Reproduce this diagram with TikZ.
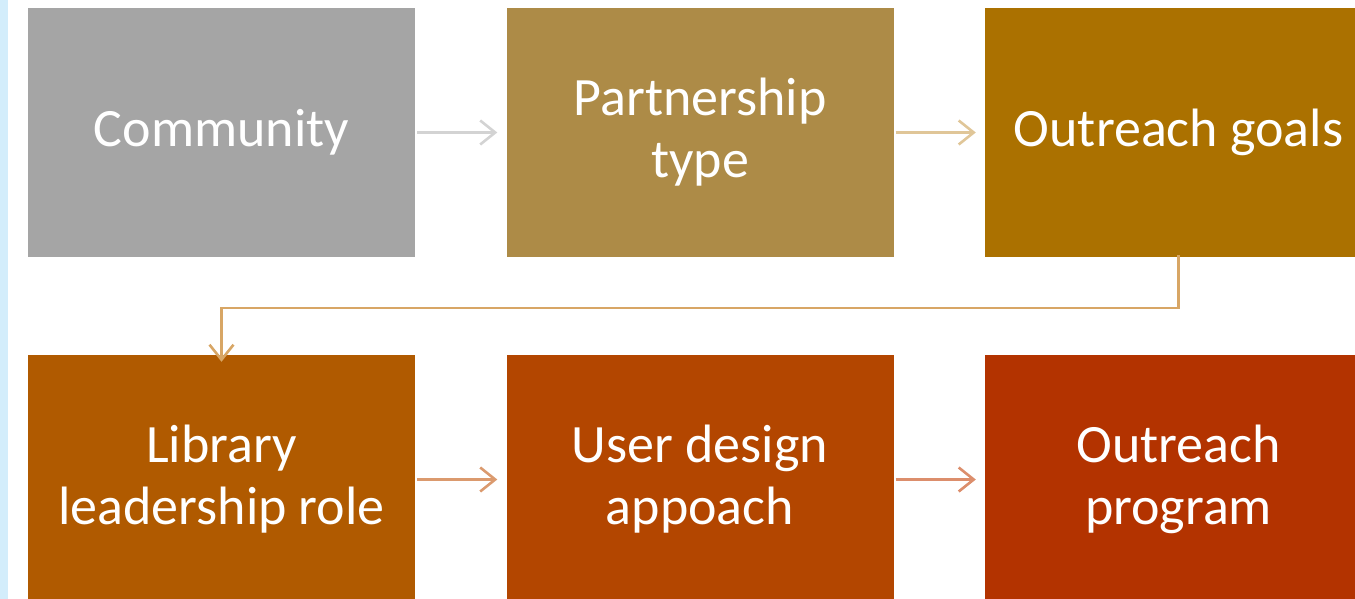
\documentclass[tikz,border=0pt]{standalone}
\usepackage{fontspec}
\setmainfont{Carlito}
\usetikzlibrary{arrows.meta}
\definecolor{cA}{HTML}{A5A5A5}
\definecolor{cB}{HTML}{AD8B47}
\definecolor{cC}{HTML}{AB7100}
\definecolor{cD}{HTML}{B05A00}
\definecolor{cE}{HTML}{B34600}
\definecolor{cF}{HTML}{B33300}
\definecolor{aA}{HTML}{D3D3D3}
\definecolor{aB}{HTML}{E0C698}
\definecolor{aC}{HTML}{D8A665}
\definecolor{aD}{HTML}{DB9A6E}
\definecolor{aE}{HTML}{DC8E6C}
\definecolor{strip}{HTML}{D3EDFB}
\begin{document}
\begin{tikzpicture}[x=1pt,y=-1pt,
  box/.style={minimum width=387pt,minimum height=249pt,inner sep=0pt,
    text=white,align=center,font=\fontsize{54}{62}\selectfont},
  conn/.style={line width=2.6pt,-{Straight Barb[length=15pt,width=24pt,line width=2.6pt]}}]
\useasboundingbox (0,0) rectangle (1355,599);
\fill[white] (0,0) rectangle (1355,599);
\fill[strip] (0,0) rectangle (8,599);
\node[box,fill=cA] (n1) at (221.5,132.5) {Community};
\node[box,fill=cB] (n2) at (700,132.5) {Partnership\\type};
\node[box,fill=cC] (n3) at (1178.5,132.5) {Outreach goals};
\node[box,fill=cD] (n4) at (221.5,479.5) {Library\\leadership role};
\node[box,fill=cE] (n5) at (700,479.5) {User design\\appoach};
\node[box,fill=cF] (n6) at (1178.5,479.5) {Outreach\\program};
\draw[conn,draw=aA] ([xshift=2pt]n1.east) -- ([xshift=-9pt]n2.west);
\draw[conn,draw=aB] ([xshift=2pt]n2.east) -- ([xshift=-9pt]n3.west);
\coordinate (k1) at (1178.5,308);
\coordinate (k2) at (221.5,308);
\draw[conn,draw=aC,line width=2.2pt] ([yshift=2pt]n3.south) -- (k1) -- (k2) -- ([yshift=-7pt]n4.north);
\draw[conn,draw=aD] ([xshift=2pt]n4.east) -- ([xshift=-9pt]n5.west);
\draw[conn,draw=aE] ([xshift=2pt]n5.east) -- ([xshift=-9pt]n6.west);
\end{tikzpicture}
\end{document}
